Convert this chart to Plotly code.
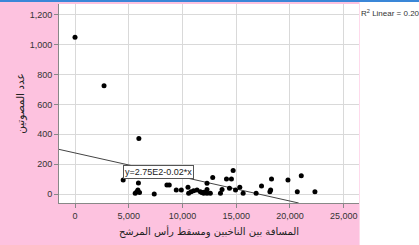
import plotly.graph_objects as go

# Data (distance, voters)
distance = [0, 2700, 5940, 4480, 5600, 5750, 5850, 5900, 7370, 8550, 8770, 9420, 9890,
            10510, 10570, 11040, 11350, 11660, 11970, 12280, 12280, 12280, 12590, 12810,
            13530, 13680, 14090, 14550, 14370, 14710, 14930, 15330, 15640, 16850, 17350,
            18130, 18200, 18280, 19810, 20680, 21050, 22320, 6000, 10800, 11800, 12000]
voters = [1050, 725, 371, 94, 5, 15, 27, 74, 0, 60, 60, 27, 27,
          45, 5, 22, 27, 15, 5, 72, 31, 5, 5, 110,
          5, 31, 100, 100, 38, 157, 27, 45, 5, 5, 54,
          15, 27, 100, 94, 15, 123, 15, 10, 15, 10, 12]

fit_intercept = 275
fit_slope = -0.0161
fit_label = "y=2.75E2-0.02*x"
r2_label = "R<sup>2</sup> Linear = 0.200"

x_range = [-1490, 26420]
y_range = [-60, 1272]
x_ticks = [0, 5000, 10000, 15000, 20000, 25000]
y_ticks = [0, 200, 400, 600, 800, 1000, 1200]

x_title = "المسافة بين الناخبين ومسقط رأس المرشح"
y_title = "عدد المصوتين"

x_end = min(x_range[1], (y_range[0] - fit_intercept) / fit_slope)
line_x = [x_range[0], x_end]
line_y = [fit_intercept + fit_slope * v for v in line_x]

fig = go.Figure()
fig.add_trace(go.Scatter(x=line_x, y=line_y, mode="lines",
                         line=dict(color="#444444", width=1), hoverinfo="skip"))
fig.add_trace(go.Scatter(x=distance, y=voters, mode="markers",
                         marker=dict(color="black", size=5)))

pink = "#FDC2DF"
fig.update_layout(
    width=419, height=245,
    margin=dict(l=59, r=60, t=4, b=42),
    paper_bgcolor=pink, plot_bgcolor="white",
    showlegend=False,
    font=dict(family="Liberation Sans, Arial", size=9, color="#333333"),
    xaxis=dict(range=x_range, tickvals=x_ticks, tickformat=",d",
               showgrid=True, gridcolor="#D9D9D9", gridwidth=1, zeroline=False,
               showline=True, linecolor="#888888", linewidth=1,
               ticks="outside", ticklen=4, tickcolor="#888888",
               title=dict(text=x_title, font=dict(family="DejaVu Sans", size=10, color="#222222"),
                          standoff=8)),
    yaxis=dict(range=y_range, tickvals=y_ticks, tickformat=",d",
               showgrid=True, gridcolor="#D9D9D9", gridwidth=1, zeroline=False,
               showline=True, linecolor="#888888", linewidth=1,
               ticks="outside", ticklen=4, tickcolor="#888888",
               title=dict(text=y_title, font=dict(family="DejaVu Sans", size=10.5, color="#222222"),
                          standoff=2)),
    shapes=[
        dict(type="rect", xref="paper", yref="paper", x0=1.002, x1=1.25, y0=-0.3, y1=1.01,
             fillcolor="white", line=dict(width=0), layer="above"),
        dict(type="rect", xref="paper", yref="paper", x0=-0.25, x1=1.25, y0=1.01, y1=1.03,
             fillcolor="#3A87D8", line=dict(width=0), layer="above"),
    ],
    annotations=[
        dict(text=fit_label, xref="x", yref="y", x=4480, y=150, xanchor="left", yanchor="middle",
             showarrow=False, bgcolor="white", bordercolor="#555555", borderwidth=1, borderpad=1,
             font=dict(family="Liberation Sans, Arial", size=9, color="#222222")),
        dict(text=r2_label, xref="paper", yref="paper", x=1.0, y=1.0 - 9/199,
             xanchor="left", yanchor="middle", showarrow=False,
             font=dict(family="Liberation Sans, Arial", size=8, color="#333333")),
    ],
)

fig.write_html("out.html", config={"displayModeBar": False},
               post_script="document.body.style.margin='0';")
